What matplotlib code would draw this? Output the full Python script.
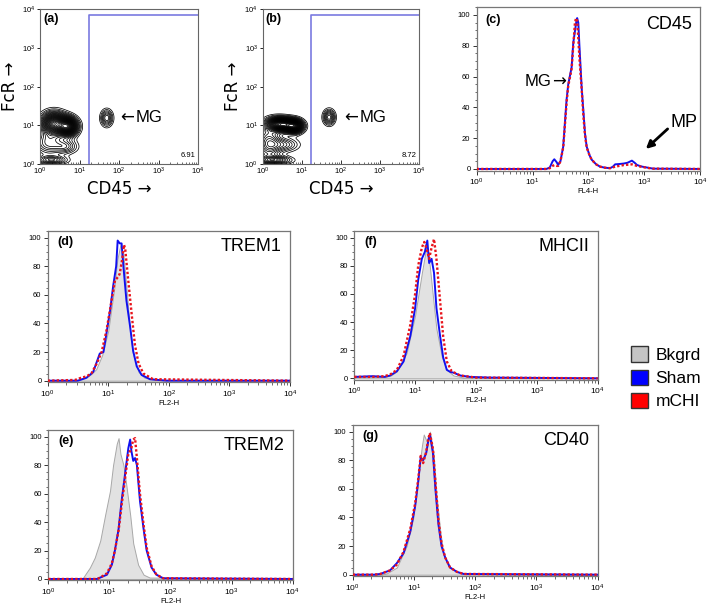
import numpy as np
import matplotlib
matplotlib.use("Agg")
import matplotlib.pyplot as plt
from matplotlib.patches import Patch
from matplotlib.ticker import LogLocator, MultipleLocator, NullFormatter, FixedLocator

plt.rcParams['font.family'] = ['Liberation Sans', 'DejaVu Sans']
plt.rcParams['mathtext.fontset'] = 'custom'
plt.rcParams['mathtext.rm'] = 'Liberation Sans'

W, H = 709, 604

# ---------------- data ----------------
# contour clusters: (log10 CD45, log10 FcR, sigma_x, sigma_y, weight); last one is MG
clusters_a = [(0.35, 1.05, 0.2, 0.18, 0.8), (0.7, 0.97, 0.16, 0.15, 0.9),
              (0.2, 0.55, 0.25, 0.22, 0.3), (0.65, 0.45, 0.2, 0.12, 0.22),
              (0.3, 0.1, 0.25, 0.07, 0.28), (1.69, 1.19, 0.1, 0.14, 0.3)]
clusters_b = [(0.45, 1.03, 0.2, 0.11, 0.85), (0.8, 0.98, 0.15, 0.11, 0.8),
              (0.15, 0.55, 0.2, 0.3, 0.3), (0.55, 0.5, 0.25, 0.12, 0.2),
              (0.3, 0.1, 0.28, 0.07, 0.3), (1.70, 1.21, 0.1, 0.13, 0.3)]
mg_label_x = [2.02, 2.08]
gate_x = 17
gate_y = 7000
gate_pct = ["6.91", "8.72"]

# histograms: log10 channel positions and % of max
c_sham_x = [0, 1.25, 1.31, 1.36, 1.39, 1.43, 1.46, 1.50, 1.55, 1.61, 1.64, 1.70, 1.73, 1.77, 1.79, 1.80,
            1.82, 1.84, 1.88, 1.91, 1.94, 1.97, 2.02, 2.06, 2.14, 2.21, 2.30, 2.39, 2.44, 2.48, 2.55,
            2.63, 2.70, 2.78, 2.83, 2.87, 2.95, 3.04, 3.16, 4]
c_sham_y = [0, 0, 1, 5, 6.3, 4.5, 2.6, 5, 14.5, 45, 55, 66, 82, 92, 97, 98, 95, 80, 53, 38, 23, 14.5,
            9, 6, 3, 1.5, 0.8, 0.5, 1.5, 3, 3.2, 3.5, 4, 5.4, 4, 2.6, 1.6, 1, 0.2, 0]
c_mchi_x = [0, 1.25, 1.31, 1.36, 1.39, 1.43, 1.46, 1.50, 1.55, 1.61, 1.64, 1.70, 1.74, 1.76, 1.78, 1.80,
            1.82, 1.84, 1.88, 1.91, 1.94, 1.97, 2.02, 2.06, 2.14, 2.21, 2.30, 2.39, 2.48, 2.63, 2.78,
            2.87, 3.04, 3.16, 4]
c_mchi_y = [0, 0, 0.5, 2, 2.5, 2, 2, 5, 14, 43, 54, 65, 85, 95, 98, 96, 85, 72, 52, 35, 22, 14, 9, 6,
            3, 1.5, 0.8, 0.5, 1.5, 2.5, 3, 2, 0.8, 0.2, 0]

d_bk_x = [0, 0.45, 0.6, 0.7, 0.8, 0.9, 1.0, 1.05, 1.1, 1.15, 1.2, 1.25, 1.3, 1.35, 1.4, 1.5, 1.6, 1.8, 4]
d_bk_y = [0, 0, 2, 4, 8, 18, 35, 50, 65, 85, 95, 88, 65, 40, 20, 6, 2, 0.5, 0]
d_sham_x = [0, 0.5, 0.64, 0.75, 0.86, 0.92, 0.97, 1.03, 1.08, 1.13, 1.155, 1.19, 1.22, 1.25, 1.30,
            1.36, 1.41, 1.47, 1.55, 1.69, 1.96, 4]
d_sham_y = [0, 0, 2, 6, 19, 20, 33, 49, 66, 80, 98, 96, 96, 80, 56, 38, 21, 10, 4, 1, 0, 0]
d_mchi_x = [0, 0.45, 0.55, 0.64, 0.72, 0.81, 0.89, 0.97, 1.05, 1.11, 1.17, 1.19, 1.23, 1.26, 1.28,
            1.33, 1.39, 1.44, 1.50, 1.58, 1.74, 4]
d_mchi_y = [0, 0.5, 2, 3, 5, 12, 20, 35, 55, 70, 73, 75, 85, 95, 92, 70, 45, 25, 12, 5, 1, 0]

f_bk_x = [0, 0.5, 0.6, 0.7, 0.86, 1.0, 1.11, 1.19, 1.24, 1.30, 1.35, 1.44, 1.52, 1.63, 1.8, 4]
f_bk_y = [1, 1, 2, 5, 18, 45, 75, 95, 80, 55, 35, 15, 6, 2, 0.5, 0]
f_sham_x = [0, 0.3, 0.5, 0.59, 0.70, 0.81, 0.92, 1.0, 1.05, 1.11, 1.16, 1.20, 1.23, 1.27, 1.31, 1.35,
            1.41, 1.46, 1.52, 1.58, 1.63, 1.74, 1.90, 2.23, 4]
f_sham_y = [1, 1.5, 1, 2, 5, 12, 30, 50, 70, 85, 90, 98, 82, 85, 75, 50, 30, 15, 6, 4.5, 4, 2, 1, 0.5, 0]
f_mchi_x = [0, 0.3, 0.5, 0.6, 0.70, 0.81, 0.92, 1.0, 1.05, 1.11, 1.15, 1.19, 1.23, 1.27, 1.31, 1.35,
            1.41, 1.46, 1.52, 1.60, 1.74, 2.0, 4]
f_mchi_y = [1, 1, 1.5, 3, 6, 16, 38, 60, 80, 93, 97, 92, 85, 93, 99, 85, 55, 30, 12, 5, 2, 0.5, 0]

e_bk_x = [0, 0.5, 0.57, 0.68, 0.76, 0.85, 0.93, 1.01, 1.06, 1.12, 1.15, 1.18, 1.23, 1.28, 1.34, 1.39,
          1.47, 1.56, 1.66, 4]
e_bk_y = [0, 0, 1, 8, 15, 27, 45, 62, 80, 95, 99, 88, 80, 65, 45, 25, 10, 3, 1, 0]
e_sham_x = [0, 0.8, 0.85, 0.96, 1.04, 1.09, 1.15, 1.20, 1.26, 1.31, 1.34, 1.36, 1.39, 1.42, 1.45, 1.50,
            1.56, 1.61, 1.69, 1.77, 1.88, 4]
e_sham_y = [0, 0, 1, 3, 10, 20, 35, 55, 75, 92, 98, 90, 83, 85, 80, 55, 35, 20, 8, 3, 0.5, 0]
e_mchi_x = [0, 0.8, 0.85, 0.96, 1.04, 1.09, 1.15, 1.20, 1.26, 1.31, 1.34, 1.36, 1.39, 1.42, 1.45, 1.50,
            1.56, 1.61, 1.69, 1.77, 1.88, 4]
e_mchi_y = [0, 0, 1, 4, 11, 20, 34, 52, 72, 88, 90, 92, 98, 99, 85, 60, 38, 22, 9, 3, 0.5, 0]

g_bk_x = [0, 0.45, 0.56, 0.72, 0.88, 0.99, 1.07, 1.13, 1.16, 1.21, 1.26, 1.32, 1.37, 1.43, 1.48, 1.56,
          1.70, 1.9, 4]
g_bk_y = [0, 0, 1, 5, 20, 40, 70, 90, 98, 93, 100, 85, 55, 30, 15, 6, 2, 0.5, 0]
g_sham_x = [0, 0.35, 0.45, 0.61, 0.72, 0.83, 0.94, 1.02, 1.07, 1.11, 1.15, 1.20, 1.24, 1.26, 1.31, 1.35,
            1.40, 1.45, 1.51, 1.59, 1.70, 1.81, 4]
g_sham_y = [0, 0, 0.5, 3, 8, 15, 30, 48, 65, 82, 80, 85, 95, 98, 85, 60, 35, 20, 12, 5, 2, 0.5, 0]
g_mchi_x = [0, 0.35, 0.45, 0.61, 0.72, 0.83, 0.94, 1.02, 1.07, 1.11, 1.15, 1.20, 1.24, 1.26, 1.31, 1.35,
            1.40, 1.45, 1.51, 1.59, 1.70, 1.81, 4]
g_mchi_y = [0, 0, 0.5, 3, 7, 16, 32, 50, 67, 83, 78, 86, 96, 99, 88, 65, 38, 22, 12, 5, 2, 0.5, 0]

legend_labels = ["Bkgrd", "Sham", "mCHI"]
BK_FACE, BK_EDGE = "#e2e2e2", "#a8a8a8"
BLUE, RED = "#1010f0", "#e8141c"
ARROW_FONT = ['DejaVu Sans']

fig = plt.figure(figsize=(W / 100, H / 100), dpi=100)


def add_ax(l, t, r, b):
    return fig.add_axes([l / W, 1 - b / H, (r - l) / W, (b - t) / H])


def style_log_x(ax, labelsize=6):
    ax.set_xscale('log')
    ax.set_xlim(1, 1e4)
    ax.xaxis.set_major_locator(LogLocator(base=10, numticks=10))
    ax.xaxis.set_minor_locator(LogLocator(base=10, subs=np.arange(2, 10), numticks=10))
    ax.xaxis.set_minor_formatter(NullFormatter())
    ax.tick_params(axis='x', which='major', labelsize=labelsize, length=3, width=0.7, pad=1.5,
                   direction='out', color='#333333')
    ax.tick_params(axis='x', which='minor', length=1.8, width=0.5, direction='out', color='#333333')


def arrow_label(ax, x, y, word, arrow, fontsize=12, arrow_first=True):
    """Word with an arrow glyph; the arrow is drawn in DejaVu Sans."""
    if arrow_first:
        ax.text(x, y, arrow, fontsize=fontsize, family=ARROW_FONT, ha='left', va='center')
        ax.annotate(word, xy=(x, y), xytext=(fontsize * 0.95, 0), textcoords='offset points',
                    fontsize=fontsize, ha='left', va='center')
    else:
        ax.text(x, y, arrow, fontsize=fontsize, family=ARROW_FONT, ha='right', va='center')
        ax.annotate(word, xy=(x, y), xytext=(-fontsize * 0.9, 0), textcoords='offset points',
                    fontsize=fontsize, ha='right', va='center')


# ---------------- contour panels ----------------
lx = np.linspace(0, 4, 800)
X, Y = np.meshgrid(lx, lx)


def contour_panel(box, clusters, label, pct, mgx):
    ax = add_ax(*box)
    Z = np.zeros_like(X)
    for cx, cy, sx, sy, w in clusters:
        Z += w * np.exp(-0.5 * (((X - cx) / sx) ** 2 + ((Y - cy) / sy) ** 2))
    levels = np.linspace(0.05, 0.97, 30) * Z.max()
    ax.contour(10 ** X, 10 ** Y, Z, levels=levels, colors='black', linewidths=0.55)
    style_log_x(ax, labelsize=5.5)
    ax.tick_params(axis='x', which='both', direction='in')
    ax.set_yscale('log')
    ax.set_ylim(1, 1e4)
    ax.yaxis.set_major_locator(LogLocator(base=10, numticks=10))
    ax.yaxis.set_minor_locator(LogLocator(base=10, subs=np.arange(2, 10), numticks=10))
    ax.yaxis.set_minor_formatter(NullFormatter())
    ax.tick_params(axis='y', which='major', labelsize=5.5, length=2, width=0.6, pad=1.5, direction='out')
    ax.tick_params(axis='y', which='minor', length=0)
    for s in ax.spines.values():
        s.set_color('#666666')
        s.set_linewidth(0.8)
    ax.plot([gate_x, gate_x, 1e4], [1, gate_y, gate_y], color='#7a7ae0', lw=1.2, clip_on=False)
    ax.text(0.02, 0.94, label, transform=ax.transAxes, fontsize=9, fontweight='bold', va='center')
    ax.text(0.985, 0.035, pct, transform=ax.transAxes, fontsize=5.5, ha='right', va='bottom')
    mg = clusters[-1]
    arrow_label(ax, 10 ** mgx, 10 ** mg[1], "MG", "\u2190", fontsize=12)
    ax.set_xlabel("CD45 \u2192", fontsize=12, labelpad=2, family=['DejaVu Sans'])
    ax.set_ylabel("FcR \u2192", fontsize=12, labelpad=2, family=['DejaVu Sans'])
    return ax


contour_panel((40, 9.3, 198, 164), clusters_a, "(a)", gate_pct[0], mg_label_x[0])
contour_panel((262.7, 9.3, 419, 164), clusters_b, "(b)", gate_pct[1], mg_label_x[1])


# ---------------- histogram panels ----------------
def hist_panel(box, label, title, xlabel, bk=None, sham=None, mchi=None):
    ax = add_ax(*box)
    if bk is not None:
        ax.fill_between(10 ** np.array(bk[0]), 0, bk[1], facecolor=BK_FACE, edgecolor=BK_EDGE,
                        lw=0.7, zorder=1)
    ax.plot(10 ** np.array(sham[0]), sham[1], color=BLUE, lw=1.4, zorder=2)
    ax.plot(10 ** np.array(mchi[0]), mchi[1], color=RED, lw=1.7, ls=(0, (1, 0.9)), zorder=3)
    style_log_x(ax)
    ax.set_ylim(-1, 105)
    ax.yaxis.set_major_locator(FixedLocator([0, 20, 40, 60, 80, 100]))
    ax.yaxis.set_minor_locator(MultipleLocator(5))
    ax.tick_params(axis='y', which='major', labelsize=5.5, length=3, width=0.7, pad=1.5, color='#333333')
    ax.tick_params(axis='y', which='minor', length=1.8, width=0.5, color='#333333')
    for s in ax.spines.values():
        s.set_color('#777777')
        s.set_linewidth(0.9)
    ax.text(0.04, 0.925, label, transform=ax.transAxes, fontsize=9, fontweight='bold', va='center')
    ax.text(0.965, 0.895, title, transform=ax.transAxes, fontsize=13, ha='right', va='center')
    ax.set_xlabel(xlabel, fontsize=5.5, labelpad=0)
    return ax


axc = hist_panel((476.7, 7.3, 700, 170.5), "(c)", "CD45", "FL4-H",
                 sham=(c_sham_x, c_sham_y), mchi=(c_mchi_x, c_mchi_y))
arrow_label(axc, 10 ** 1.6, 56.5, "MG", "\u2192", fontsize=12, arrow_first=False)
axc.text(10 ** 3.71, 30.5, "MP", fontsize=13, ha='center', va='center')
axc.annotate("", xy=(10 ** 3.03, 13), xytext=(10 ** 3.42, 26),
             arrowprops=dict(arrowstyle='-|>', color='black', lw=2.0, mutation_scale=11,
                             shrinkA=0, shrinkB=0))

hist_panel((47.7, 230.55, 290, 382.1), "(d)", "TREM1", "FL2-H",
           bk=(d_bk_x, d_bk_y), sham=(d_sham_x, d_sham_y), mchi=(d_mchi_x, d_mchi_y))
hist_panel((354.3, 230.7, 597.7, 379.7), "(f)", "MHCII", "FL2-H",
           bk=(f_bk_x, f_bk_y), sham=(f_sham_x, f_sham_y), mchi=(f_mchi_x, f_mchi_y))
hist_panel((48.3, 429.6, 292.7, 580.4), "(e)", "TREM2", "FL2-H",
           bk=(e_bk_x, e_bk_y), sham=(e_sham_x, e_sham_y), mchi=(e_mchi_x, e_mchi_y))
hist_panel((352.7, 424.5, 597.7, 576.1), "(g)", "CD40", "FL2-H",
           bk=(g_bk_x, g_bk_y), sham=(g_sham_x, g_sham_y), mchi=(g_mchi_x, g_mchi_y))

# ---------------- legend ----------------
handles = [Patch(facecolor='#c4c4c4', edgecolor='#333333', lw=1.0),
           Patch(facecolor='#0000ff', edgecolor='#333333', lw=1.0),
           Patch(facecolor='#ff0000', edgecolor='#333333', lw=1.0)]
fig.legend(handles, legend_labels, loc='upper left', bbox_to_anchor=(628 / W, 1 - 343 / H),
           frameon=False, fontsize=12.5, handlelength=0.98, handleheight=0.98, handletextpad=0.4,
           labelspacing=0.38, borderpad=0.2, borderaxespad=0)

fig.savefig("out.png", dpi=100)
